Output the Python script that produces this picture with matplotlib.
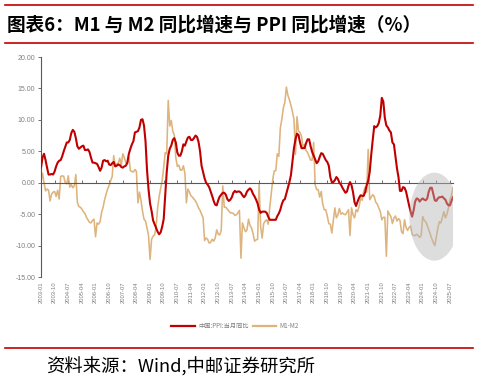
import numpy as np
import pandas as pd
import matplotlib
matplotlib.use("Agg")
import matplotlib.pyplot as plt
from matplotlib.patches import Ellipse
from matplotlib.lines import Line2D

plt.rcParams['font.family'] = ['Noto Sans CJK SC', 'DejaVu Sans']

months = list(pd.period_range('2003-01', '2025-09', freq='M').strftime('%Y-%m'))

ppi = (
    [2.4, 4.0, 4.6, 3.6, 2.4, 1.3, 1.3, 1.4, 1.3, 1.8, 2.6, 3.2] +
    [3.5, 3.6, 4.2, 5.0, 5.7, 6.4, 6.4, 6.8, 7.9, 8.4, 8.1, 7.1] +
    [5.8, 5.4, 5.6, 5.8, 5.9, 5.2, 5.2, 5.3, 4.9, 4.0, 3.2, 3.2] +
    [3.1, 3.0, 2.5, 1.9, 2.4, 3.5, 3.6, 3.4, 3.5, 2.9, 2.8, 3.1] +
    [3.3, 2.6, 2.7, 2.9, 2.8, 2.5, 2.4, 2.6, 2.7, 3.2, 4.6, 5.4] +
    [6.1, 6.6, 8.0, 8.1, 8.2, 8.8, 10.0, 10.1, 9.1, 6.6, 2.0, -1.1] +
    [-3.3, -4.5, -6.0, -6.6, -7.2, -7.8, -8.2, -7.9, -7.0, -5.8, -2.1, 1.7] +
    [4.3, 5.4, 5.9, 6.8, 7.1, 6.4, 4.8, 4.3, 4.3, 5.0, 6.1, 5.9] +
    [6.6, 7.2, 7.3, 6.8, 6.8, 7.1, 7.5, 7.3, 6.5, 5.0, 2.7, 1.7] +
    [0.7, 0.0, -0.3, -0.7, -1.4, -2.1, -2.9, -3.5, -3.6, -2.8, -2.2, -1.9] +
    [-1.6, -1.6, -1.9, -2.6, -2.9, -2.7, -2.3, -1.6, -1.3, -1.5, -1.4, -1.4] +
    [-1.6, -2.0, -2.3, -2.0, -1.4, -1.1, -0.9, -1.2, -1.8, -2.2, -2.7, -3.3] +
    [-4.3, -4.8, -4.6, -4.6, -4.6, -4.8, -5.4, -5.9, -5.9, -5.9, -5.9, -5.9] +
    [-5.3, -4.9, -4.3, -3.4, -2.8, -2.6, -1.7, -0.8, 0.1, 1.2, 3.3, 5.5] +
    [6.9, 7.8, 7.6, 6.4, 5.5, 5.5, 5.5, 6.3, 6.9, 6.9, 5.8, 4.9] +
    [4.3, 3.7, 3.1, 3.4, 4.1, 4.7, 4.6, 4.1, 3.6, 3.3, 2.7, 0.9] +
    [0.1, 0.1, 0.4, 0.9, 0.6, 0.0, -0.3, -0.8, -1.2, -1.6, -1.4, -0.5] +
    [0.1, -0.4, -1.5, -3.1, -3.7, -3.0, -2.4, -2.0, -2.1, -2.1, -1.5, -0.4] +
    [0.3, 1.7, 4.4, 6.8, 9.0, 8.8, 9.0, 9.5, 10.7, 13.5, 12.9, 10.3] +
    [9.1, 8.8, 8.3, 8.0, 6.4, 6.1, 4.2, 2.3, 0.9, -1.3, -1.3, -0.7] +
    [-0.8, -1.4, -2.5, -3.6, -4.6, -5.4, -4.4, -3.0, -2.5, -2.6, -3.0, -2.7] +
    [-2.5, -2.7, -2.8, -2.5, -1.4, -0.8, -0.8, -1.8, -2.8, -2.9, -2.5, -2.3] +
    [-2.3, -2.2, -2.5, -2.7, -3.3, -3.6, -3.6, -2.9, -2.3]
)

m1_m2 = (
    [0.3, 1.5, 0.0, -1.3, -1.0, -1.2, -2.9, -1.8, -1.5, -1.4, -2.2, -1.2] +
    [-2.6, 1.0, 1.1, 1.0, 0.0, -0.2, 1.1, -0.7, -0.3, -0.8, -0.5, 1.3] +
    [-3.1, -3.8, -3.9, -4.2, -4.6, -4.9, -5.5, -5.9, -6.3, -6.4, -6.0, -5.8] +
    [-8.6, -6.4, -6.6, -6.2, -4.7, -3.9, -2.7, -1.8, -1.0, -0.4, 0.3, 1.0] +
    [4.3, 2.7, 3.0, 3.1, 3.9, 2.7, 4.6, 4.0, 3.2, 3.0, 4.2, 1.9] +
    [1.8, 1.7, 2.1, 1.8, -3.2, -1.5, -2.8, -4.5, -5.8, -6.1, -7.2, -8.4] +
    [-12.2, -9.0, -8.5, -8.3, -7.0, -4.0, -2.2, -0.9, 0.3, 2.4, 4.8, 4.6] +
    [13.1, 9.0, 9.9, 8.2, 7.6, 4.0, 2.6, 2.8, 2.0, 2.0, 2.7, 1.5] +
    [-3.2, -1.0, -1.5, -2.1, -2.3, -2.6, -2.9, -3.4, -4.0, -4.4, -5.0, -5.6] +
    [-9.2, -8.8, -9.0, -9.6, -9.5, -9.0, -9.3, -8.8, -7.5, -8.2, -8.3, -7.6] +
    [-0.5, -3.9, -3.9, -4.2, -4.5, -4.8, -4.8, -4.9, -5.2, -5.1, -4.8, -4.4] +
    [-12.0, -6.4, -7.2, -7.8, -7.5, -5.8, -6.8, -7.2, -8.1, -9.3, -9.1, -9.0] +
    [-0.2, -7.0, -8.8, -6.5, -6.1, -5.9, -6.6, -4.0, -1.8, 0.5, 1.9, 1.9] +
    [4.6, 4.2, 8.7, 10.1, 11.9, 12.8, 15.2, 13.9, 13.2, 12.3, 11.3, 10.1] +
    [4.5, 10.5, 8.2, 8.0, 7.4, 5.6, 6.1, 5.1, 4.8, 4.2, 3.6, 3.6] +
    [6.4, -0.3, -1.1, -1.1, -2.3, -1.4, -3.4, -4.3, -4.3, -5.3, -6.5, -6.6] +
    [-8.0, -6.0, -4.0, -5.6, -5.1, -4.1, -5.0, -4.8, -5.0, -5.1, -4.7, -4.3] +
    [-8.4, -4.0, -5.1, -5.6, -4.3, -4.6, -3.8, -2.4, -2.8, -1.4, -0.7, -1.5] +
    [5.3, -2.7, -2.3, -1.9, -2.2, -3.1, -3.4, -4.0, -4.6, -5.9, -5.5, -5.5] +
    [-11.7, -4.5, -5.0, -5.4, -6.5, -5.6, -5.3, -6.1, -5.7, -6.0, -7.8, -8.1] +
    [-5.9, -7.1, -7.6, -7.1, -6.9, -8.2, -8.4, -8.4, -8.2, -8.4, -8.7, -8.4] +
    [-5.4, -6.0, -6.2, -6.8, -7.5, -8.2, -8.9, -9.5, -10.0, -8.6, -7.2, -6.2] +
    [-6.4, -5.5, -4.6, -5.6, -5.0, -4.0, -2.7, -2.0, -0.8]
)

yticks = [20, 15, 10, 5, 0, -5, -10, -15]
series_names = ['中国:PPI:当月同比', 'M1-M2']
title = '图表6：M1 与 M2 同比增速与 PPI 同比增速（%）'
source = '资料来源：Wind,中邮证券研究所'

RED = '#C00000'
TAN = '#DDB47E'
GRAY = '#7F7F7F'

fig = plt.figure(figsize=(4.79, 3.83), dpi=100)
W, H = 479, 383
ax = fig.add_axes([41 / W, 1 - 277 / H, (453 - 41) / W, (277 - 57) / H])

x = np.arange(len(months))
ax.plot(x, ppi, color=RED, lw=1.5, zorder=3)
ax.plot(x, m1_m2, color=TAN, lw=1.15, zorder=2)

ax.set_xlim(0, len(months) - 1)
ax.set_ylim(-15, 20)
ax.set_yticks(yticks)
ax.set_yticklabels(['%.2f' % v for v in yticks], fontsize=5, color=GRAY,
                   family='Liberation Sans')
ax.tick_params(axis='y', length=2, width=0.6, color='#595959', pad=2)

for s in ['top', 'right']:
    ax.spines[s].set_visible(False)
ax.spines['left'].set_color('#595959')
ax.spines['left'].set_linewidth(0.8)
ax.spines['bottom'].set_position(('data', 0))
ax.spines['bottom'].set_color('#595959')
ax.spines['bottom'].set_linewidth(0.8)

tick_pos = x[::9]
ax.set_xticks(tick_pos)
ax.tick_params(axis='x', direction='in', length=2, width=0.6, color='#595959',
               labelbottom=False)
sec = ax.secondary_xaxis('bottom')
sec.set_xticks(tick_pos)
sec.set_xticklabels([months[i] for i in tick_pos], rotation=90, fontsize=4.2,
                    color=GRAY, family='Liberation Sans')
sec.tick_params(length=0, pad=3)
sec.spines['bottom'].set_visible(False)

# highlight ellipse
ell = Ellipse((259.7, -5.4), width=33.0, height=14.0, facecolor='#B5B5B5',
              edgecolor='none', alpha=0.45, zorder=4)
ax.add_patch(ell)

# legend
handles = [Line2D([], [], color=RED, lw=1.6), Line2D([], [], color=TAN, lw=1.6)]
fig.legend(handles, series_names, loc='center', bbox_to_anchor=(235 / W, 1 - 326 / H),
           ncol=2, frameon=False, fontsize=4.5, labelcolor=GRAY,
           handlelength=3.8, columnspacing=0.6, handletextpad=0.5)

# title and decorations
fig.add_artist(Line2D([5 / W, 473 / W], [1 - 5 / H, 1 - 5 / H], color='#C00000', lw=1.2))
fig.add_artist(Line2D([5 / W, 473 / W], [1 - 43 / H, 1 - 43 / H], color='#C00000', lw=1.2))
fig.add_artist(Line2D([5 / W, 473 / W], [1 - 348 / H, 1 - 348 / H], color='#C00000', lw=1.2))
fig.text(7 / W, 1 - 25 / H, title, fontsize=13.4, fontweight='bold', color='black',
         ha='left', va='center')
fig.text(46 / W, 1 - 367 / H, source, fontsize=13.2, color='black', ha='left', va='center')

fig.savefig('out.png', dpi=100)
